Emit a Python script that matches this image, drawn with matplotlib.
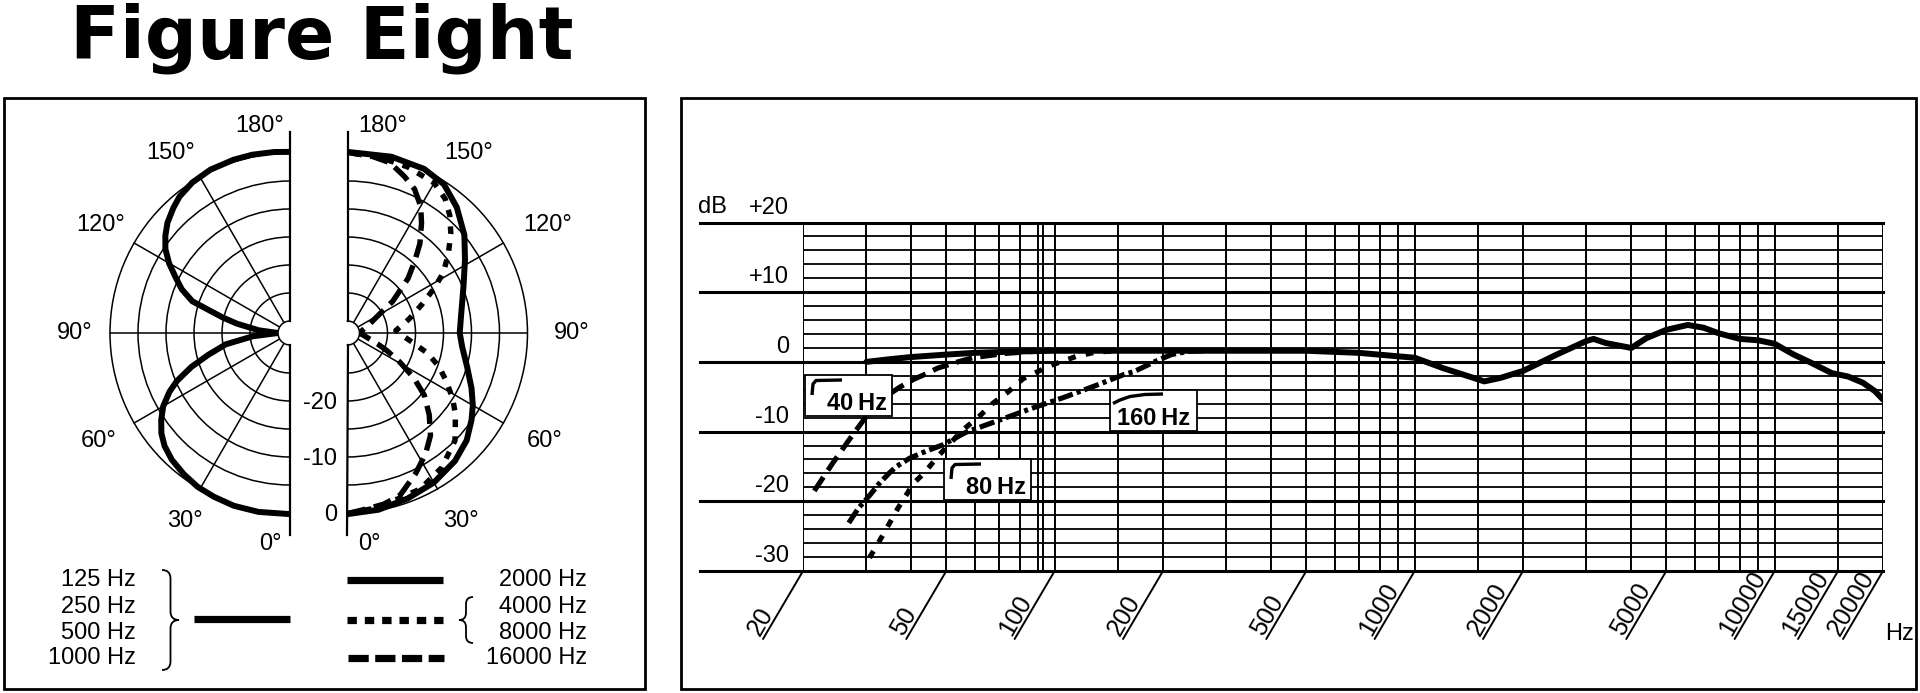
import numpy as np
import matplotlib
matplotlib.use("Agg")
import matplotlib.pyplot as plt
from matplotlib.patches import Rectangle, PathPatch
from matplotlib.path import Path

plt.rcParams['font.family'] = ['Liberation Sans', 'DejaVu Sans']

W, H = 1920, 693
FS = 17

# ---- polar data: angle (deg, 0 at bottom) and level (dB) ----
low_angles = [0, 10, 18, 25, 31, 37, 43, 48, 52, 56, 60, 64, 67, 71, 75, 80, 85, 90,
              95, 100, 103, 108, 112, 116, 120, 124, 128, 132, 137, 141, 147, 154, 162, 168, 175, 180]
low_db = [0.2, 0.3, 0.3, 0.1, -0.1, -0.6, -1.2, -2.0, -3.0, -4.4, -6.0, -8.2, -10.2, -13.5, -17.0, -20.5, -25.5, -30.0,
          -26.5, -22.5, -19.8, -13.8, -11.3, -9.4, -7.2, -5.3, -3.9, -2.7, -1.6, -0.8, -0.1, 0.3, 0.4, 0.4, 0.3, 0.2]

hf2000_angles = [0, 10, 20, 30, 40, 48, 55, 60, 66, 74, 83, 90, 99, 106, 112, 122, 130, 139, 147, 155, 166, 180]
hf2000_db = [0.2, -0.1, -0.7, -1.3, -2.3, -3.5, -5.1, -6.3, -7.9, -9.9, -11.5, -12.1, -11.6, -10.8, -9.8, -7.4, -4.9,
             -2.4, -0.5, 0.2, 0.3, 0.2]

hf4k8k_angles = [0, 10, 25, 35, 45, 53, 58, 64, 70, 76, 82, 88, 93, 98, 103, 111, 117, 122, 128, 134, 139, 144, 150,
                 160, 170, 180]
hf4k8k_db = [0.1, -0.5, -1.4, -2.8, -5.0, -8.0, -10.0, -12.5, -14.8, -17.5, -20.5, -22.5, -23.5, -22.3, -20.8, -17.9,
             -14.9, -12.0, -9.3, -6.5, -4.3, -2.5, -1.2, -0.6, -0.2, 0.1]

hf16k_angles = [0, 7, 12, 18, 26, 33, 39, 45, 51, 56, 61, 66, 70, 78, 90, 105, 113, 118, 125, 132, 137, 141, 146, 150,
                155, 160, 166, 172, 180]
hf16k_db = [0.1, -0.6, -0.9, -1.7, -4.3, -6.5, -8.6, -11.5, -14.5, -17.9, -21.5, -24.5, -26.4, -28.7, -30.0, -29.0,
            -27.7, -26.5, -22.3, -17.6, -14.5, -11.6, -8.5, -6.0, -3.8, -2.4, -0.8, -0.3, 0.1]

ring_db = [-25, -20, -15, -10, -5, 0]
spoke_angles = [30, 60, 90, 120, 150]
angle_ticks = [0, 30, 60, 90, 120, 150, 180]
level_ticks = [0, -10, -20]

legend_low = ['125 Hz', '250 Hz', '500 Hz', '1000 Hz']
legend_high = ['2000 Hz', '4000 Hz', '8000 Hz', '16000 Hz']

# ---- frequency response (Hz, dB) ----
resp_freq = [30, 35, 40, 50, 60, 80, 100, 200, 500, 700, 900, 1000, 1200, 1500, 1560, 1730, 2000, 2480, 3000, 3140,
             3400, 4000, 4400, 5000, 5740, 6350, 7000, 8000, 9000, 10000, 11300, 12600, 14400, 15000, 16000, 17600,
             19000, 20000]
resp_db = [0.0, 0.4, 0.7, 1.05, 1.3, 1.5, 1.6, 1.6, 1.6, 1.3, 0.8, 0.6, -0.9, -2.5, -2.8, -2.3, -1.3, 1.05, 3.0, 3.3,
           2.7, 2.0, 3.4, 4.6, 5.3, 4.9, 4.1, 3.3, 3.1, 2.6, 1.05, -0.1, -1.6, -1.8, -2.1, -3.0, -4.2, -5.4]

hp40_freq = [21.5, 24.2, 27.1, 29.7, 32.5, 34.8, 37.2, 40.6, 44, 47.3, 53.8, 59.3, 72.5, 87, 100]
hp40_db = [-18.5, -14.5, -10.9, -8.1, -6.0, -4.6, -3.6, -2.5, -1.7, -0.9, 0.0, 0.6, 1.2, 1.5, 1.6]

hp80_freq = [30.6, 33.2, 36.7, 40.6, 43.7, 47.1, 51, 55.8, 62.1, 67.5, 74.3, 81.8, 93.1, 100, 115, 130, 150]
hp80_db = [-28.1, -25.0, -21.0, -17.4, -15.8, -13.7, -11.8, -9.7, -7.7, -5.9, -4.3, -2.4, -1.0, -0.3, 0.8, 1.4, 1.6]

hp160_freq = [26.8, 28.5, 30.8, 32.5, 34.8, 36.4, 39.6, 44, 48.9, 56.7, 69.8, 86, 106, 130, 156, 166, 191, 211, 234, 260]
hp160_db = [-23.1, -21.0, -19.0, -17.5, -15.9, -15.0, -13.8, -12.8, -11.9, -10.1, -8.4, -6.7, -5.1, -3.4, -1.8, -1.4,
            0.1, 1.05, 1.5, 1.6]

grid_freqs = [20, 30, 40, 50, 60, 70, 80, 90, 93, 100, 150, 200, 300, 400, 500, 600, 700, 800, 900, 1000, 1500, 2000,
              3000, 4000, 5000, 6000, 7000, 8000, 9000, 10000, 15000, 20000]
label_freqs = [20, 50, 100, 200, 500, 1000, 2000, 5000, 10000, 15000, 20000]
db_ticks = [20, 10, 0, -10, -20, -30]
db_tick_labels = ['+20', '+10', '0', '-10', '-20', '-30']


def fig_rect(x0, y0, x1, y1):
    return [x0 / W, 1 - y1 / H, (x1 - x0) / W, (y1 - y0) / H]


fig = plt.figure(figsize=(W / 100, H / 100), dpi=100)

# ---------------- polar halves ----------------
R_PX = 201.5
R_TOP = 3.84
R_ORIGIN = -32.14
CY = 333.0


def half_polar(cx, direction):
    # the half wedge is fitted into a square box of side 2R
    side = 2 * R_PX
    x0 = cx - (0.75 if direction < 0 else 0.25) * side
    ax = fig.add_axes(fig_rect(x0, CY - R_PX, x0 + side, CY + R_PX), projection='polar')
    ax.set_theta_zero_location('S')
    ax.set_theta_direction(direction)
    ax.set_thetamin(0)
    ax.set_thetamax(180)
    ax.set_ylim(-30, R_TOP)
    ax.set_rorigin(R_ORIGIN)
    ax.set_xticks([])
    ax.set_yticks(ring_db)
    ax.set_yticklabels([])
    ax.tick_params(length=0)
    ax.yaxis.grid(True, color='black', lw=1.1)
    ax.spines['polar'].set_visible(False)
    ax.spines['start'].set_linewidth(1.6)
    ax.spines['end'].set_linewidth(1.6)
    ax.spines['inner'].set_linewidth(1.1)
    for a in spoke_angles:
        ax.plot([np.deg2rad(a)] * 2, [-30, 0], color='black', lw=1.1)
    return ax


ax_l = half_polar(290.0, -1)
ax_r = half_polar(347.5, 1)

ax_l.plot(np.deg2rad(low_angles), low_db, color='black', lw=4.3, solid_joinstyle='round')
ax_r.plot(np.deg2rad(hf2000_angles), hf2000_db, color='black', lw=4.3, solid_joinstyle='round')
ax_r.plot(np.deg2rad(hf4k8k_angles), hf4k8k_db, color='black', lw=3.9, ls=(0, (1.4, 1.7)))
ax_r.plot(np.deg2rad(hf16k_angles), hf16k_db, color='black', lw=3.9, ls=(0, (3.4, 1.6)))

left_off = {180: (-30, 27), 150: (-29, 24), 120: (-33, 18), 90: (-35, 0), 60: (-35, -18), 30: (-15, -32),
            0: (-20, -31)}
right_off = {180: (35, 27), 150: (31, 24), 120: (44, 18), 90: (44, 0), 60: (41, -18), 30: (23, -32),
             0: (22, -31)}
for a in angle_ticks:
    ax_l.annotate(f'{a}°', xy=(np.deg2rad(a), 0), xytext=left_off[a], textcoords='offset pixels',
                  ha='center', va='center', fontsize=FS)
    ax_r.annotate(f'{a}°', xy=(np.deg2rad(a), 0), xytext=right_off[a], textcoords='offset pixels',
                  ha='center', va='center', fontsize=FS)
for lv in level_ticks:
    ax_r.annotate(str(lv), xy=(0, lv), xytext=(-10, -2), textcoords='offset pixels',
                  ha='right', va='center', fontsize=FS)

# ---------------- frequency response ----------------
X0, X1, Y0, Y1 = 803, 1883, 222.5, 571
ax = fig.add_axes(fig_rect(X0, Y0, X1, Y1))
ax.set_xscale('log')
ax.set_xlim(20, 20000)
ax.set_ylim(-30, 20)
ax.set_axis_off()

for v in range(-30, 21, 2):
    if v % 10 == 0:
        ax.axhline(v, xmin=(700 - X0) / (X1 - X0), xmax=1, color='black', lw=2.2, clip_on=False)
    else:
        ax.axhline(v, color='black', lw=1.3)
ax.vlines(grid_freqs, -30, 20, color='black', lw=1.4)

ax.plot(hp40_freq, hp40_db, color='black', lw=3.7, ls=(0, (3.2, 1.6)), zorder=4)
ax.plot(hp80_freq, hp80_db, color='black', lw=3.7, ls=(0, (1.5, 2.0)), zorder=4)
ax.plot(hp160_freq, hp160_db, color='black', lw=3.7, ls=(0, (3.0, 0.8, 0.8, 0.8)), zorder=4)
ax.plot(resp_freq, resp_db, color='black', lw=4.3, solid_joinstyle='round', solid_capstyle='round', zorder=5)

for v, s in zip(db_ticks, db_tick_labels):
    ax.annotate(s, xy=(20, v), xytext=(-14, 15), textcoords='offset pixels',
                ha='right', va='center', fontsize=FS)

for f in label_freqs:
    ax.annotate('', xy=(f, -30), xytext=(-40, -68), textcoords='offset pixels',
                arrowprops=dict(arrowstyle='-', lw=1.4, color='black', shrinkA=0, shrinkB=0))
    ax.annotate(str(f), xy=(f, -30), xytext=(-43.5, -66), textcoords='offset pixels',
                rotation=60, rotation_mode='anchor', ha='left', va='baseline', fontsize=18)

# ---------------- overlay (pixel coordinates) ----------------
ov = fig.add_axes([0, 0, 1, 1])
ov.set_xlim(0, W)
ov.set_ylim(H, 0)
ov.set_axis_off()
ov.patch.set_alpha(0)
ov.set_zorder(10)

ov.text(70, 58, 'Figure Eight', fontsize=52.5, fontweight='bold', family=['DejaVu Sans'],
        ha='left', va='baseline')
ov.add_patch(Rectangle((4, 98), 641, 591, fill=False, lw=2.0, ec='black'))
ov.add_patch(Rectangle((681, 98), 1235, 591, fill=False, lw=2.0, ec='black'))

ov.text(698, 207, 'dB', ha='left', va='center', fontsize=FS)
ov.text(1885, 640, 'Hz', ha='left', va='baseline', fontsize=FS)

# filter boxes
for (bx, by, label, sym) in [(805, 375, '40\u2009Hz', 'hp'), (944, 459, '80\u2009Hz', 'hp'),
                             (1110, 390, '160\u2009Hz', 'shelf')]:
    ov.add_patch(Rectangle((bx, by), 87, 41, fc='white', ec='black', lw=1.3))
    if sym == 'hp':
        ov.plot([bx + 7, bx + 8, bx + 11, bx + 37], [by + 20, by + 9, by + 5.5, by + 5],
                color='black', lw=2.4, solid_capstyle='butt')
        ov.text(bx + 22, by + 35, label, fontsize=17, fontweight='bold', ha='left', va='baseline')
    else:
        ov.plot([bx + 3, bx + 10, bx + 20, bx + 35, bx + 53], [by + 13.5, by + 10, by + 6.5, by + 4.5, by + 4],
                color='black', lw=2.4, solid_capstyle='butt')
        ov.text(bx + 7, by + 35, label, fontsize=17, fontweight='bold', ha='left', va='baseline')

# legend
leg_y = [580, 606.7, 632.7, 658.3]
for s, y in zip(legend_low, leg_y):
    ov.text(135.5, y, s, ha='right', va='center', fontsize=FS)
for s, y in zip(legend_high, leg_y):
    ov.text(587, y, s, ha='right', va='center', fontsize=FS)

ov.plot([194, 290], [619.3, 619.3], color='black', lw=5.2, solid_capstyle='butt')
ov.plot([347, 443], [580, 580], color='black', lw=5.2, solid_capstyle='butt')
ov.plot([347, 443], [620, 620], color='black', lw=5.2, ls=(0, (1.3, 1.1)))
ov.plot([348, 444], [658, 658], color='black', lw=5.2, ls=(0, (2.8, 0.9)))


def brace(x_back, x_tip, y0, y1):
    xm = (x_back + x_tip) / 2
    ym = (y0 + y1) / 2
    q = abs(x_tip - x_back) * 0.5
    verts = [(x_back, y0), (xm, y0), (xm, y0 + q),
             (xm, ym - q), (xm, ym), (x_tip, ym),
             (xm, ym), (xm, ym + q),
             (xm, y1 - q), (xm, y1), (x_back, y1)]
    codes = [Path.MOVETO, Path.CURVE3, Path.CURVE3,
             Path.LINETO, Path.CURVE3, Path.CURVE3,
             Path.CURVE3, Path.CURVE3,
             Path.LINETO, Path.CURVE3, Path.CURVE3]
    ov.add_patch(PathPatch(Path(verts, codes), fill=False, lw=1.3, ec='black'))


brace(162, 179, 570, 670)
brace(473, 459, 597, 643)

fig.savefig('out.png', dpi=100)
